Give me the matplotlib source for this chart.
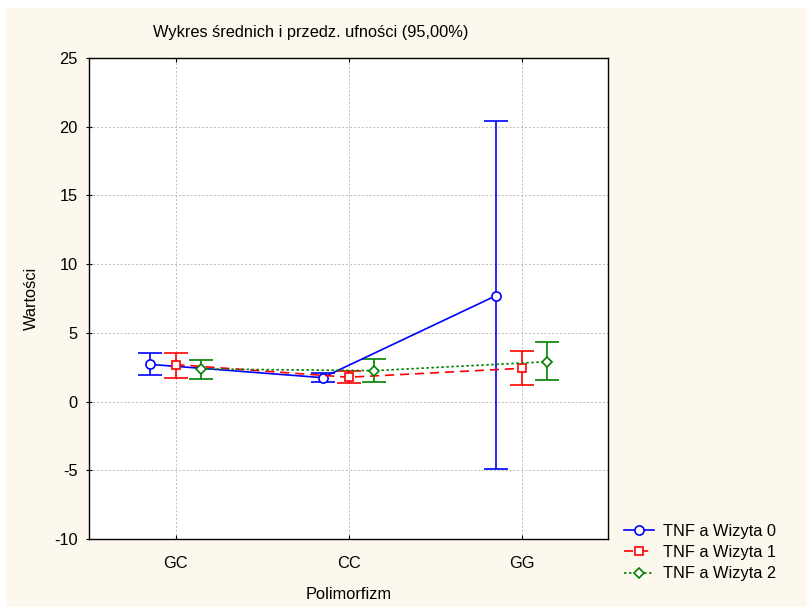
import matplotlib
matplotlib.use("Agg")
import matplotlib.pyplot as plt
import matplotlib.patches as mpatches
import numpy as np

plt.rcParams['font.family'] = ['Liberation Sans', 'DejaVu Sans']
plt.rcParams['axes.unicode_minus'] = False

categories = ["GC", "CC", "GG"]
series_names = ["TNF a Wizyta 0", "TNF a Wizyta 1", "TNF a Wizyta 2"]
means_w0 = [2.71, 1.74, 7.69]
upper_w0 = [3.52, 2.10, 20.42]
lower_w0 = [1.94, 1.40, -4.90]
means_w1 = [2.69, 1.77, 2.42]
upper_w1 = [3.56, 2.20, 3.68]
lower_w1 = [1.72, 1.33, 1.19]
means_w2 = [2.37, 2.25, 2.90]
upper_w2 = [3.03, 3.12, 4.34]
lower_w2 = [1.62, 1.40, 1.55]

bg = "#FDF8EE"
W, H = 808, 607
fig = plt.figure(figsize=(W / 100, H / 100), dpi=100, facecolor="white")
fig.patches.append(mpatches.Rectangle((6 / W, 0), (W - 7) / W, (H - 8) / H,
                                      transform=fig.transFigure, facecolor=bg,
                                      edgecolor="none", zorder=-10))
ax = fig.add_axes([89 / W, 1 - 539 / H, (608 - 89) / W, (539 - 58) / H])
ax.set_facecolor("white")

FS = 11.8
x = np.arange(1, len(categories) + 1)
offsets = [-0.15, 0.0, 0.15]
styles = [
    dict(color="#0000FF", ls="-", marker="o", ms=6.6),
    dict(color="#FF0000", ls=(0, (5.5, 3.5)), marker="s", ms=6.0),
    dict(color="#008000", ls=(0, (1.5, 1.5)), marker="D", ms=5.2),
]
data = [(means_w0, upper_w0, lower_w0), (means_w1, upper_w1, lower_w1), (means_w2, upper_w2, lower_w2)]

for (m, u, l), off, st, name in zip(data, offsets, styles, series_names):
    m = np.array(m); u = np.array(u); l = np.array(l)
    ax.errorbar(x + off, m, yerr=[m - l, u - m], fmt="none", ecolor=st["color"],
                elinewidth=1.2, capsize=8.5, capthick=1.2, zorder=3)
    ax.plot(x + off, m, color=st["color"], linestyle=st["ls"], linewidth=1.2,
            marker=st["marker"], markersize=st["ms"], markerfacecolor="white",
            markeredgecolor=st["color"], markeredgewidth=1.2, label=name, zorder=4)

ax.set_xlim(0.5, 3.5)
ax.set_ylim(-10, 25)
ax.set_xticks(x)
ax.set_xticklabels(categories)
ax.set_yticks(np.arange(-10, 26, 5))
ax.grid(True, color="#BBBBBB", linestyle=(0, (2, 2)), linewidth=0.7)
ax.set_axisbelow(True)
ax.tick_params(axis="x", direction="in", length=3, labelsize=FS, colors="black", top=True, pad=12)
ax.tick_params(axis="y", direction="inout", length=4, labelsize=FS, colors="black", pad=6)
for s in ax.spines.values():
    s.set_color("black")
    s.set_linewidth(1.0)

ax.set_xlabel("Polimorfizm", fontsize=FS, labelpad=12)
ax.set_ylabel("Wartości", fontsize=FS, labelpad=11)
fig.text(311 / W, 1 - 32 / H, "Wykres średnich i przedz. ufności (95,00%)",
         ha="center", va="center", fontsize=FS)

leg = fig.legend(loc="upper left", bbox_to_anchor=(624 / W, 1 - 524 / H), frameon=False,
                 fontsize=FS, handlelength=1.8, labelspacing=0.38, handletextpad=0.55,
                 borderpad=0, borderaxespad=0)

fig.savefig("out.png", dpi=100, facecolor="white")
